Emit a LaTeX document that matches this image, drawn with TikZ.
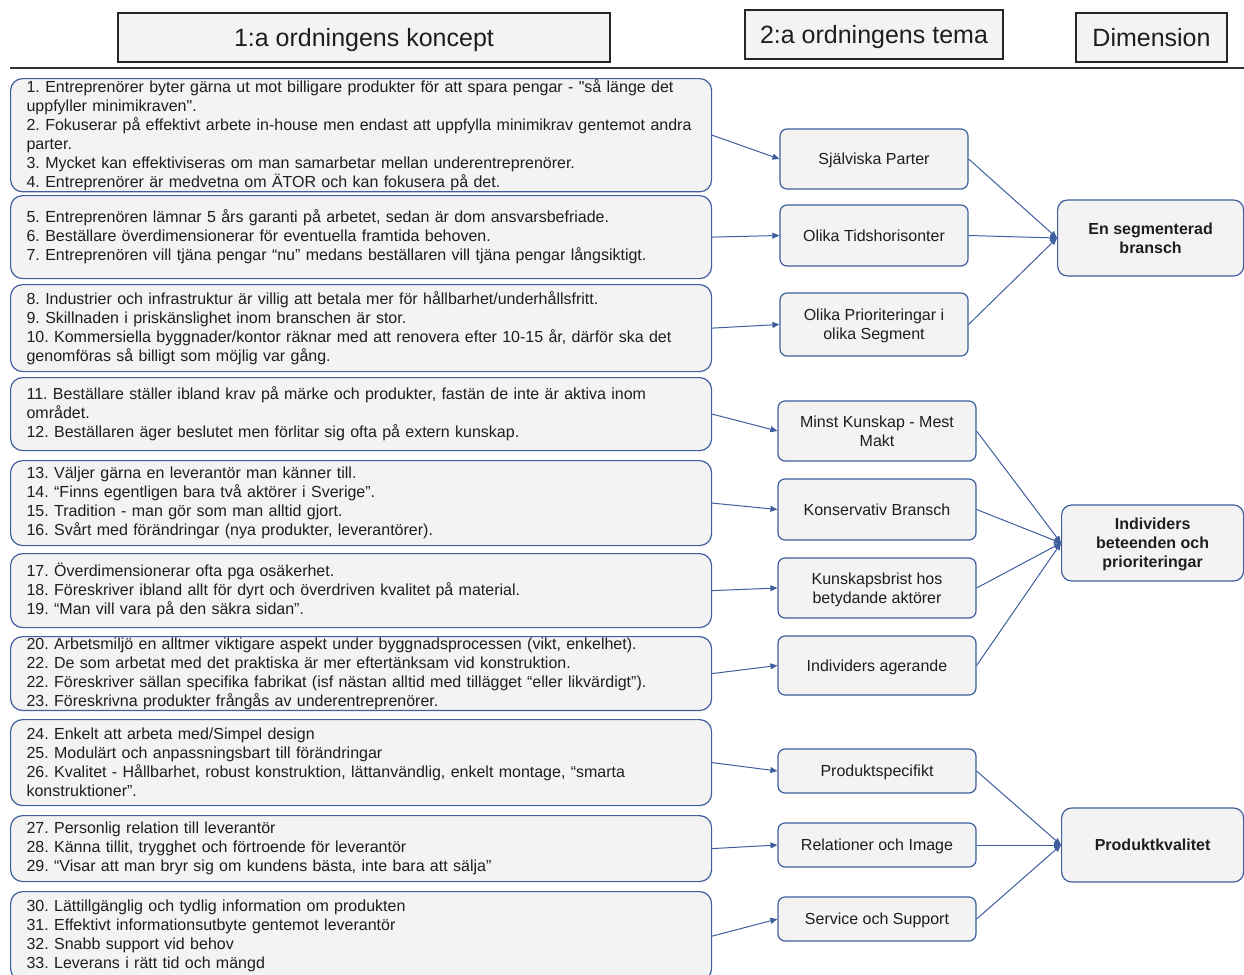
\documentclass[tikz,border=0pt]{standalone}
\usepackage{fontspec}
\setmainfont{Liberation Sans}
\usetikzlibrary{arrows.meta}

\definecolor{boxblue}{RGB}{62,94,158}
\definecolor{boxfill}{RGB}{243,243,243}
\definecolor{txtgray}{RGB}{30,30,30}

\begin{document}
\frenchspacing
\begin{tikzpicture}[
    x=1pt, y=-1pt,
    header/.style={rectangle, draw=black!85, line width=1.2pt, fill=boxfill, text=txtgray, minimum height=49pt, text depth=0pt, font=\fontsize{25}{30}\selectfont},
    concept/.style={rectangle, draw=boxblue, line width=1.2pt, fill=boxfill, text=txtgray, rounded corners=12pt, anchor=north west, minimum width=701pt, text width=669pt, inner xsep=16pt, inner ysep=1pt, align=left, font=\fontsize{16}{19}\selectfont},
    theme/.style={rectangle, draw=boxblue, line width=1.2pt, fill=boxfill, text=txtgray, rounded corners=7pt, text depth=0pt, align=center, font=\fontsize{16}{19}\selectfont},
    dimension/.style={rectangle, draw=boxblue, line width=1.2pt, fill=boxfill, text=txtgray, rounded corners=10pt, anchor=west, text depth=0pt, align=center, font=\bfseries\fontsize{16}{19}\selectfont},
    link/.style={-{Triangle[length=7pt, width=6pt]}, draw=boxblue, line width=1pt}
]
    \useasboundingbox (0,0) rectangle (1244,974);

    % Column headers
    \node (hkoncept) [header, minimum width=492pt] at (364,37.5) {1:a ordningens koncept};
    \node (htema) [header, minimum width=258pt] at (874,34.5) {2:a ordningens tema};
    \node (hdim) [header, minimum width=151pt] at (1151.5,37.5) {Dimension};
    \draw[line width=2pt, black!80] (10,68) -- (1250,68);

    % 1:a ordningens koncept (left column)
    \node (k1) [concept, minimum height=111pt] at (10,78) {1. Entreprenörer byter gärna ut mot billigare produkter för att spara pengar - \textquotedbl så länge det\\uppfyller minimikraven\textquotedbl.\\2. Fokuserar på effektivt arbete in-house men endast att uppfylla minimikrav gentemot andra\\parter.\\3. Mycket kan effektiviseras om man samarbetar mellan underentreprenörer.\\4. Entreprenörer är medvetna om ÄTOR och kan fokusera på det.};
    \node (k2) [concept, minimum height=83pt] at (10,195) {5. Entreprenören lämnar 5 års garanti på arbetet, sedan är dom ansvarsbefriade.\\6. Beställare överdimensionerar för eventuella framtida behoven.\\7. Entreprenören vill tjäna pengar “nu” medans beställaren vill tjäna pengar långsiktigt.};
    \node (k3) [concept, minimum height=87pt] at (10,284) {8. Industrier och infrastruktur är villig att betala mer för hållbarhet/underhållsfritt.\\9. Skillnaden i priskänslighet inom branschen är stor.\\10. Kommersiella byggnader/kontor räknar med att renovera efter 10-15 år, därför ska det\\genomföras så billigt som möjlig var gång.};
    \node (k4) [concept, minimum height=73pt] at (10,377) {11. Beställare ställer ibland krav på märke och produkter, fastän de inte är aktiva inom\\området.\\12. Beställaren äger beslutet men förlitar sig ofta på extern kunskap.};
    \node (k5) [concept, minimum height=85pt] at (10,460) {13. Väljer gärna en leverantör man känner till.\\14. “Finns egentligen bara två aktörer i Sverige”.\\15. Tradition - man gör som man alltid gjort.\\16. Svårt med förändringar (nya produkter, leverantörer).};
    \node (k6) [concept, minimum height=74pt] at (10,553) {17. Överdimensionerar ofta pga osäkerhet.\\18. Föreskriver ibland allt för dyrt och överdriven kvalitet på material.\\19. “Man vill vara på den säkra sidan”.};
    \node (k7) [concept, minimum height=73pt] at (10,636) {20. Arbetsmiljö en alltmer viktigare aspekt under byggnadsprocessen (vikt, enkelhet).\\22. De som arbetat med det praktiska är mer eftertänksam vid konstruktion.\\22. Föreskriver sällan specifika fabrikat (isf nästan alltid med tillägget “eller likvärdigt”).\\23. Föreskrivna produkter frångås av underentreprenörer.};
    \node (k8) [concept, minimum height=86pt] at (10,719) {24. Enkelt att arbeta med/Simpel design\\25. Modulärt och anpassningsbart till förändringar\\26. Kvalitet - Hållbarhet, robust konstruktion, lättanvändlig, enkelt montage, “smarta\\konstruktioner”.};
    \node (k9) [concept, minimum height=66pt] at (10,815) {27. Personlig relation till leverantör\\28. Känna tillit, trygghet och förtroende för leverantör\\29. “Visar att man bryr sig om kundens bästa, inte bara att sälja”};
    \node (k10) [concept, minimum height=89pt] at (10,891) {30. Lättillgänglig och tydlig information om produkten\\31. Effektivt informationsutbyte gentemot leverantör\\32. Snabb support vid behov\\33. Leverans i rätt tid och mängd};

    % 2:a ordningens tema (middle column)
    \node (sjalviska) [theme, minimum width=188pt, minimum height=60pt] at (874,159) {Själviska Parter};
    \node (tidshorisont) [theme, minimum width=188pt, minimum height=61pt] at (874,235.5) {Olika Tidshorisonter};
    \node (prioritering) [theme, minimum width=188pt, minimum height=63pt] at (874,324.5) {Olika Prioriteringar i\\olika Segment};
    \node (minstkunskap) [theme, minimum width=198pt, minimum height=60pt] at (877,431) {Minst Kunskap - Mest\\Makt};
    \node (konservativ) [theme, minimum width=198pt, minimum height=61pt] at (877,509.5) {Konservativ Bransch};
    \node (kunskapsbrist) [theme, minimum width=198pt, minimum height=60pt] at (877,588) {Kunskapsbrist hos\\betydande aktörer};
    \node (agerande) [theme, minimum width=198pt, minimum height=59pt] at (877,665.5) {Individers agerande};
    \node (produktspec) [theme, minimum width=198pt, minimum height=44pt] at (877,771) {Produktspecifikt};
    \node (relationer) [theme, minimum width=198pt, minimum height=44pt] at (877,845) {Relationer och Image};
    \node (service) [theme, minimum width=198pt, minimum height=44pt] at (877,919) {Service och Support};

    % Dimension (right column)
    \node (segmenterad) [dimension, minimum width=186pt, minimum height=76pt] at (1057,238) {En segmenterad\\bransch};
    \node (individer) [dimension, minimum width=182pt, minimum height=76pt] at (1061,543) {Individers\\beteenden och\\prioriteringar};
    \node (kvalitet) [dimension, minimum width=182pt, minimum height=74pt] at (1061,845) {Produktkvalitet};

    % Koncept -> tema
    \draw [link] (k1.east) -- (sjalviska.west);
    \draw [link] (k2.east) -- (tidshorisont.west);
    \draw [link] (k3.east) -- (prioritering.west);
    \draw [link] (k4.east) -- (minstkunskap.west);
    \draw [link] (k5.east) -- (konservativ.west);
    \draw [link] (k6.east) -- (kunskapsbrist.west);
    \draw [link] (k7.east) -- (agerande.west);
    \draw [link] (k8.east) -- (produktspec.west);
    \draw [link] (k9.east) -- (relationer.west);
    \draw [link] (k10.east) -- (service.west);

    % Tema -> dimension
    \draw [link] (sjalviska.east) -- (segmenterad.west);
    \draw [link] (tidshorisont.east) -- (segmenterad.west);
    \draw [link] (prioritering.east) -- (segmenterad.west);
    \draw [link] (minstkunskap.east) -- (individer.west);
    \draw [link] (konservativ.east) -- (individer.west);
    \draw [link] (kunskapsbrist.east) -- (individer.west);
    \draw [link] (agerande.east) -- (individer.west);
    \draw [link] (produktspec.east) -- (kvalitet.west);
    \draw [link] (relationer.east) -- (kvalitet.west);
    \draw [link] (service.east) -- (kvalitet.west);

\end{tikzpicture}
\end{document}
